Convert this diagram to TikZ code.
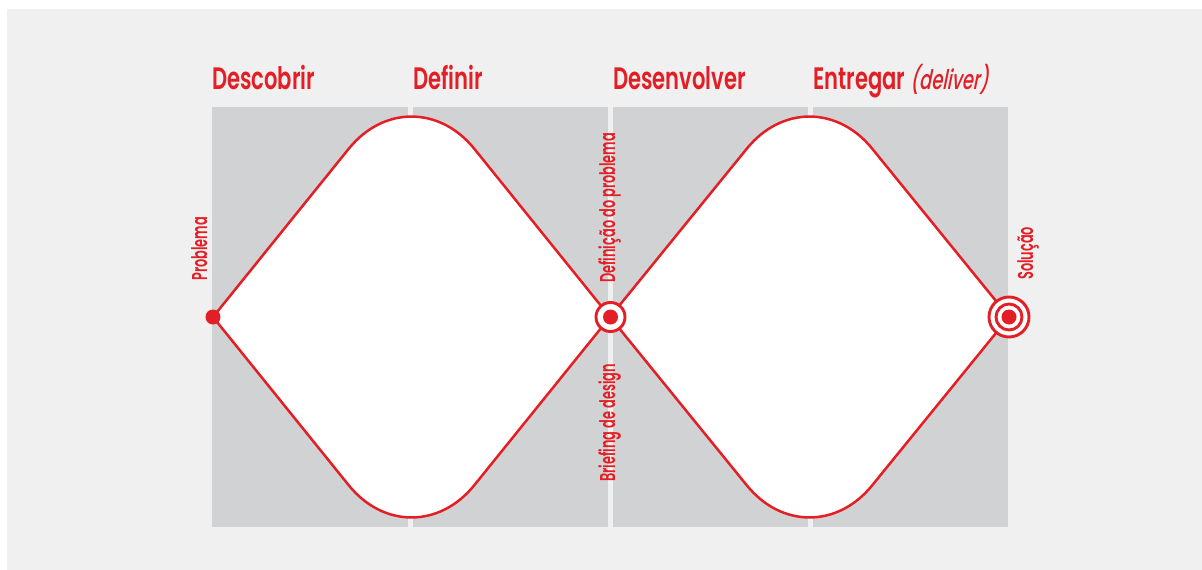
\documentclass[tikz,border=0pt]{standalone}
\usepackage{fontspec}
\newfontfamily\hfont[FakeStretch=0.68]{Poppins SemiBold}
\newfontfamily\lfont[FakeStretch=0.6]{Poppins SemiBold}
\newfontfamily\hfontsl[FakeStretch=0.66,FakeSlant=0.2]{Poppins Medium}
\definecolor{ddred}{HTML}{E31E24}
\definecolor{panel}{HTML}{D1D2D4}
\definecolor{bggray}{HTML}{F0F0F0}
\begin{document}
\begin{tikzpicture}[x=1pt,y=-1pt,
  head/.style={text=ddred, font=\hfont\fontsize{31}{33}\selectfont, inner sep=0pt, anchor=base west},
  lbl/.style={text=ddred, font=\lfont\fontsize{21.5}{23}\selectfont, inner sep=0pt, rotate=90, anchor=base west},
  panelbox/.style={fill=panel, draw=none},
  diam/.style={draw=ddred, fill=white, line width=2.5pt, line join=round},
  dot/.style={circle, fill=ddred, draw=none, minimum size=15pt, inner sep=0pt},
  ring/.style={circle, draw=ddred, fill=white, line width=2.9pt, inner sep=0pt}
]
\useasboundingbox (0,0) rectangle (1202,570);
\fill[white] (0,0) rectangle (1202,570);
\fill[bggray] (7,9) rectangle (1202,570);
% panels
\fill[panelbox] (212,107) rectangle (407.7,527);
\fill[panelbox] (412.7,107) rectangle (608,527);
\fill[panelbox] (612.7,107) rectangle (808,527);
\fill[panelbox] (813,107) rectangle (1008,527);
% headers
\node[head] (h1) at (212,89) {Descobrir};
\node[head] (h2) at (413,89) {Definir};
\node[head] (h3) at (613,89) {Desenvolver};
\node[head] (h4) at (813,89) {Entregar {\hfontsl\fontsize{27}{29}\selectfont(deliver)}};
% diamond 1
\draw[diam] (213,317) -- (348.7,148.8) .. controls (383.4,105.8) and (439.6,105.8) .. (474.3,148.8)
  -- (610,317) -- (474.3,485.2) .. controls (439.6,528.2) and (383.4,528.2) .. (348.7,485.2) -- cycle;
% diamond 2
\begin{scope}[xshift=398pt]
\draw[diam] (212,317) -- (348.7,148.8) .. controls (383.4,105.8) and (439.6,105.8) .. (474.3,148.8)
  -- (611,317) -- (474.3,485.2) .. controls (439.6,528.2) and (383.4,528.2) .. (348.7,485.2) -- cycle;
\end{scope}
% markers
\node[dot] (prob) at (213,317) {};
\node[ring, minimum size=29pt] (mid) at (610.5,317) {};
\node[dot] (middot) at (mid.center) {};
\node[ring, minimum size=40pt] (solout) at (1009,317) {};
\node[ring, minimum size=26pt] (solin) at (solout.center) {};
\node[dot] (soldot) at (solout.center) {};
% labels
\node[lbl] (lprob) at (207,281) {Problema};
\node[lbl] (ldef) at (615,283) {Definição do problema};
\node[lbl] (lbrief) at (615,482) {Briefing de design};
\node[lbl] (lsol) at (1033,280) {Solução};
\end{tikzpicture}
\end{document}
